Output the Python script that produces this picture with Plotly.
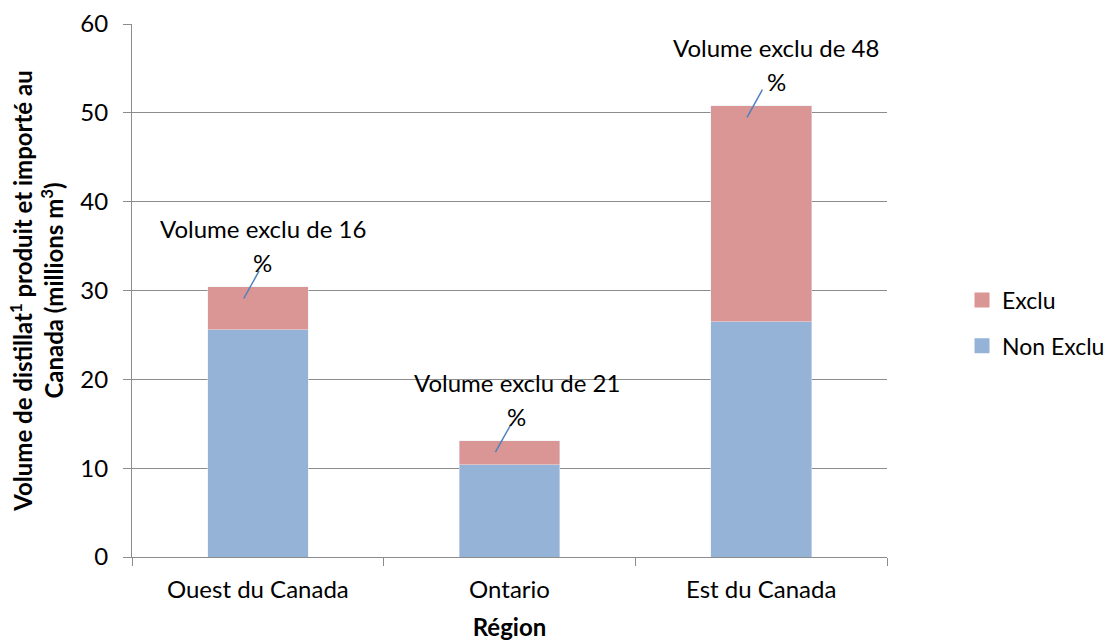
import plotly.graph_objects as go

regions = ["Ouest du Canada", "Ontario", "Est du Canada"]
non_exclu = [25.6, 10.4, 26.5]
exclu = [4.8, 2.7, 24.3]
pct_exclu = [16, 21, 48]

FONT = "Lato"
C_EX = "#D99694"
C_NON = "#95B3D7"
GRID = "#8C8C8C"

fig = go.Figure()
fig.add_trace(go.Bar(x=regions, y=non_exclu, name="Non Exclu", marker_color=C_NON,
                     showlegend=False))
fig.add_trace(go.Bar(x=regions, y=exclu, name="Exclu", marker_color=C_EX,
                     showlegend=False))
# legend entries (square swatches)
fig.add_trace(go.Scatter(x=[None], y=[None], mode="markers", name="Exclu",
                         marker=dict(symbol="square", size=15, color=C_EX),
                         legendgroup="a"))
fig.add_trace(go.Scatter(x=[None], y=[None], mode="markers", name="Non Exclu",
                         marker=dict(symbol="square", size=15, color=C_NON),
                         legendgroup="b"))

totals = [a + b for a, b in zip(non_exclu, exclu)]
xshift = [5, 7, 15]
for i, (t, p) in enumerate(zip(totals, pct_exclu)):
    fig.add_annotation(x=i, y=t, xref="x", yref="y", text=f"Volume exclu de {p}",
                       showarrow=False, yanchor="middle", yshift=58, xshift=xshift[i],
                       font=dict(family=FONT, size=24, color="#000000"))
    fig.add_annotation(x=i, y=t, xref="x", yref="y", text="%",
                       showarrow=False, yanchor="middle", yshift=24, xshift=xshift[i],
                       font=dict(family=FONT, size=24, color="#000000"))
    fig.add_shape(type="line", xref="x", yref="y", x0=i - 0.056, y0=t - 1.3,
                  x1=i + 0.005, y1=t + 1.8, line=dict(color="#4F81BD", width=1.5))

fig.update_layout(
    width=1111, height=641,
    margin=dict(l=132, r=224, t=24, b=84),
    paper_bgcolor="white", plot_bgcolor="white",
    barmode="stack", bargap=0.6,
    font=dict(family=FONT, size=24, color="#000000"),
    showlegend=True,
    legend=dict(traceorder="grouped", tracegroupgap=13, xref="container", yref="container",
                x=0.8659, xanchor="left", y=0.4961, yanchor="middle", itemsizing="trace",
                font=dict(family=FONT, size=23), bgcolor="rgba(0,0,0,0)"),
    xaxis=dict(showline=True, linecolor=GRID, linewidth=1, ticks="outside",
               tickson="boundaries", ticklen=8, tickcolor=GRID, automargin=False,
               ticklabelstandoff=11,
               title=dict(text="<b>Région</b>", font=dict(family=FONT, size=24), standoff=17),
               tickfont=dict(family=FONT, size=24)),
    yaxis=dict(range=[0, 60], dtick=10, showline=True, linecolor=GRID, linewidth=1,
               ticks="outside", ticklen=8, tickcolor=GRID, showgrid=True, gridcolor=GRID,
               gridwidth=1, zeroline=False, automargin=False, ticklabelstandoff=10,
               title=dict(text="<b>Volume de distillat<sup>1</sup> produit et importé au<br>Canada (millions m<sup>3</sup>)</b>",
                          font=dict(family=FONT, size=24), standoff=9),
               tickfont=dict(family=FONT, size=24)),
)

fig.write_html("out.html", config={"displayModeBar": False},
               post_script="document.body.style.margin='0';document.body.style.overflow='hidden';")
